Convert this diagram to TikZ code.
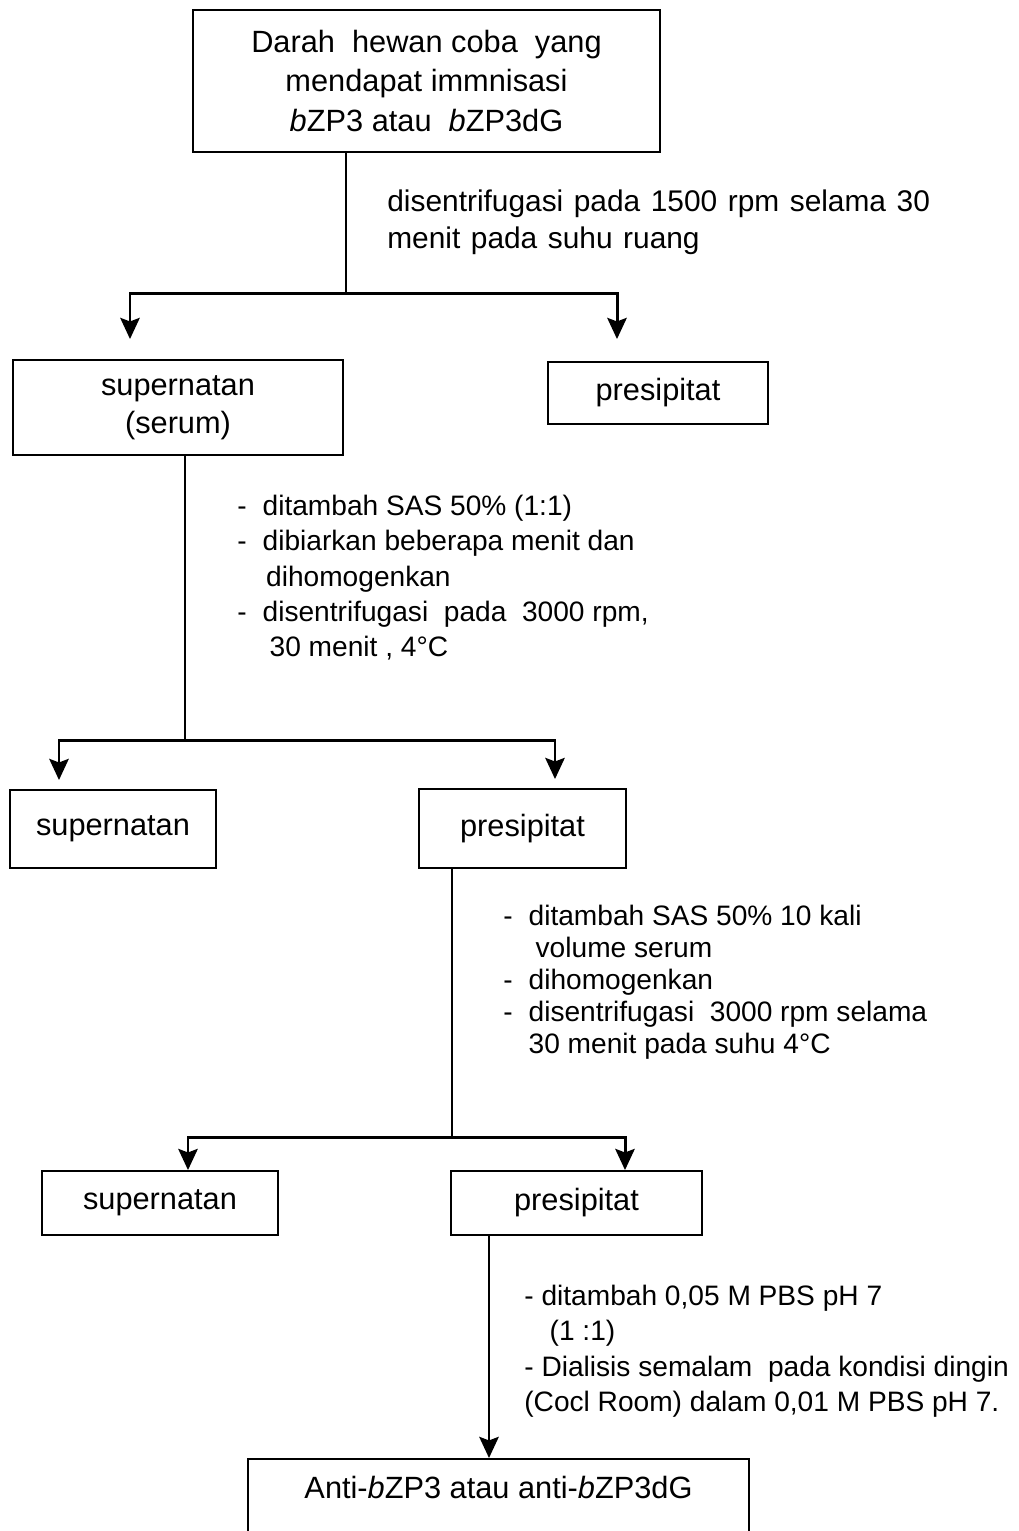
\documentclass[tikz,border=0pt]{standalone}
\usepackage{fontspec}
\setmainfont{Liberation Sans}
\usetikzlibrary{arrows.meta}

% dash and indent for the step lists
\newcommand{\lsdash}{\makebox[0.9em][l]{-}}
\newcommand{\lsind}{\hspace*{0.9em}}
% wider word spacing
\newcommand{\widespace}{\spaceskip=6pt plus 1pt\relax}

\begin{document}
\begin{tikzpicture}[
    box/.style={draw, line width=1.1pt, inner sep=0pt, align=center, font=\fontsize{17.5}{21.5}\selectfont},
    note/.style={anchor=north west, inner sep=0pt, align=left},
    line/.style={line width=1.1pt},
    flow/.style={line width=1.7pt, -{Stealth[length=12pt,width=11pt,inset=2pt]}},
    font=\fontsize{16}{20}\selectfont
]
    \clip (0,0) rectangle (20.38,-30.62);

    % Define the boxes
    \node[box, minimum width=9.34cm, minimum height=2.84cm, font=\fontsize{17.5}{22.7}\selectfont] (blood) at (8.53,-1.62)
        {Darah\ \ hewan coba\ \ yang\\ mendapat immnisasi\\ \emph{b}ZP3 atau\ \ \emph{b}ZP3dG};
    \node[box, minimum width=6.6cm, minimum height=1.9cm] (serum) at (3.56,-8.15) {supernatan\\ (serum)};
    \node[box, minimum width=4.4cm, minimum height=1.24cm] (pres1) at (13.16,-7.86) {presipitat};

    \node[box, minimum width=4.12cm, minimum height=1.56cm] (sup2) at (2.26,-16.58) {supernatan};
    \node[box, minimum width=4.14cm, minimum height=1.58cm] (pres2) at (10.45,-16.57) {presipitat};

    \node[box, minimum width=4.72cm, minimum height=1.28cm] (sup3) at (3.2,-24.06) {supernatan};
    \node[box, minimum width=5.02cm, minimum height=1.28cm] (pres3) at (11.53,-24.06) {presipitat};

    \node[box, anchor=north, minimum width=10.02cm, text height=0.8cm, text depth=1.3cm] (anti) at (9.97,-29.16)
        {Anti-\emph{b}ZP3 atau anti-\emph{b}ZP3dG};

    % Define the steps
    \node[note, font=\fontsize{17}{21.5}\selectfont\widespace] (step1) at (7.74,-3.78)
        {disentrifugasi pada 1500 rpm selama 30\\ menit pada suhu ruang};
    \node[note] (step2) at (4.74,-9.9)
        {\lsdash ditambah SAS 50\% (1:1)\\
         \lsdash dibiarkan beberapa menit dan\\
         \lsind\hspace{2pt}dihomogenkan\\
         \lsdash disentrifugasi\ \ pada\ \ 3000 rpm,\\
         \lsind\hspace{4pt}30 menit , 4°C};
    \node[note, font=\fontsize{16}{18.2}\selectfont] (step3) at (10.06,-18.1)
        {\lsdash ditambah SAS 50\% 10 kali\\
         \lsind\hspace{4pt}volume serum\\
         \lsdash dihomogenkan\\
         \lsdash disentrifugasi\ \ 3000 rpm selama\\
         \lsind 30 menit pada suhu 4°C};
    \node[note] (step4) at (10.48,-25.7)
        {- ditambah 0,05 M PBS pH 7\\
         \hspace*{0.9em}(1 :1)\\
         - Dialisis semalam\ \ pada kondisi dingin\\
         (Cocl Room) dalam 0,01 M PBS pH 7.};

    % Define the joints
    \coordinate (j1) at (6.92,-5.86);
    \coordinate (j2) at (3.7,-14.8);
    \coordinate (j3) at (9.04,-22.74);
    \coordinate (j4) at ([xshift=-1.75cm]pres3.south);

    % Draw arrows
    \draw[line] (blood.south -| j1) -- (j1);
    \draw[flow, shorten >=0.4cm] (j1) -| ([xshift=-0.96cm]serum.north);
    \draw[flow, shorten >=0.44cm] (j1) -| ([xshift=-0.82cm]pres1.north);

    \draw[line] (serum.south -| j2) -- (j2);
    \draw[flow, shorten >=0.18cm] (j2) -| ([xshift=-1.08cm]sup2.north);
    \draw[flow, shorten >=0.18cm] (j2) -| ([xshift=0.65cm]pres2.north);

    \draw[line] (pres2.south -| j3) -- (j3);
    \draw[flow] (j3) -| ([xshift=0.56cm]sup3.north);
    \draw[flow] (j3) -| ([xshift=0.97cm]pres3.north);

    \draw[flow] (j4) -- (anti.north -| j4);
\end{tikzpicture}
\end{document}
